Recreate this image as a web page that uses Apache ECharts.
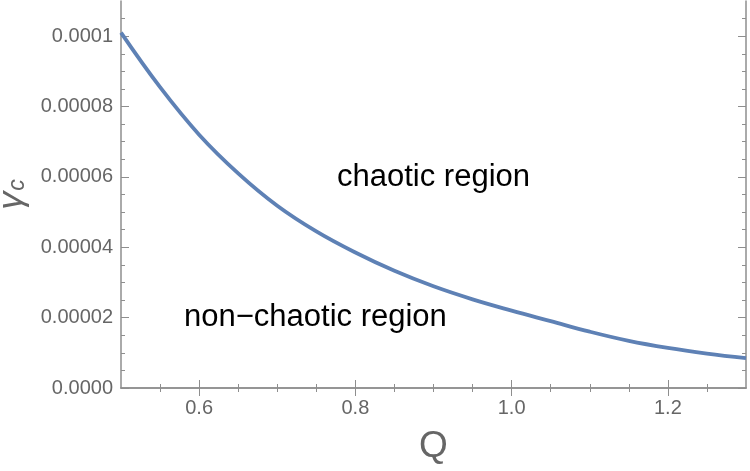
<!DOCTYPE html>
<html>
<head>
<meta charset="utf-8">
<script src="https://cdn.jsdelivr.net/npm/echarts@6/dist/echarts.min.js"></script>
<style>
  html, body { margin: 0; padding: 0; background: #fff; }
  #main { width: 750px; height: 471px; }
</style>
</head>
<body>
<div id="main"></div>
<script>
  // values
  var qValues = [0.50, 0.55, 0.60, 0.65, 0.70, 0.75, 0.80, 0.85, 0.90, 0.95, 1.00, 1.05, 1.10, 1.15, 1.20, 1.25, 1.30];
  var gammaC = [1.01e-4, 8.55e-5, 7.2e-5, 6.1e-5, 5.18e-5, 4.45e-5, 3.85e-5, 3.33e-5, 2.89e-5, 2.52e-5, 2.2e-5, 1.9e-5, 1.6e-5, 1.34e-5, 1.14e-5, 0.98e-5, 0.85e-5];

  // ticks
  var xMajor = [0.6, 0.8, 1.0, 1.2];
  var xMinor = [0.55, 0.65, 0.7, 0.75, 0.85, 0.9, 0.95, 1.05, 1.1, 1.15, 1.25];
  var yMajor = [0, 0.00002, 0.00004, 0.00006, 0.00008, 0.0001];
  var yMinor = [0.000005, 0.00001, 0.000015, 0.000025, 0.00003, 0.000035, 0.000045, 0.00005, 0.000055,
                0.000065, 0.00007, 0.000075, 0.000085, 0.00009, 0.000095, 0.000105];

  var axisColor = "#8e8e8e";
  var labelColor = "#666";
  var font = "Liberation Sans, Arial, sans-serif";

  function xAxisDef(pos, ticks, len, showLabel, showLine) {
    return {
      type: "value", min: 0.5, max: 1.3, position: pos,
      axisLine: { show: showLine, lineStyle: { color: axisColor, width: 1.5 } },
      axisTick: { show: true, inside: true, length: len, customValues: ticks, lineStyle: { color: axisColor, width: 1 } },
      axisLabel: {
        show: showLabel, customValues: xMajor, color: labelColor, fontSize: 20, fontFamily: font, margin: 10,
        formatter: function (v) { return v.toFixed(1); }
      },
      splitLine: { show: false }
    };
  }
  function yAxisDef(pos, ticks, len, showLabel, showLine) {
    return {
      type: "value", min: 0, max: 0.00011, position: pos,
      axisLine: { show: showLine, lineStyle: { color: axisColor, width: 1.5 } },
      axisTick: { show: true, inside: true, length: len, customValues: ticks, lineStyle: { color: axisColor, width: 1 } },
      axisLabel: {
        show: showLabel, customValues: yMajor, color: labelColor, fontSize: 20, fontFamily: font, margin: 8,
        formatter: function (v) {
          if (v === 0) return "0.0000";
          if (Math.abs(v - 0.0001) < 1e-12) return "0.0001";
          return v.toFixed(5);
        }
      },
      splitLine: { show: false }
    };
  }

  var xAxes = [
    xAxisDef("bottom", xMajor, 8, true, true),
    xAxisDef("bottom", xMinor, 4, false, false),
    xAxisDef("top", xMajor, 8, false, true),
    xAxisDef("top", xMinor, 4, false, false)
  ];
  xAxes[0].name = "Q";
  xAxes[0].nameLocation = "middle";
  xAxes[0].nameGap = 40;
  xAxes[0].nameTextStyle = { color: labelColor, fontSize: 37, fontFamily: font };

  var yAxes = [
    yAxisDef("left", yMajor, 8, true, true),
    yAxisDef("left", yMinor, 4, false, false),
    yAxisDef("right", yMajor, 8, false, true),
    yAxisDef("right", yMinor, 4, false, false)
  ];
  yAxes[0].name = "{g|γ}{s|c}";
  yAxes[0].nameLocation = "middle";
  yAxes[0].nameRotate = 90;
  yAxes[0].nameGap = 90;
  yAxes[0].nameTextStyle = {
    color: labelColor, fontFamily: font,
    rich: {
      g: { fontSize: 36, fontStyle: "italic", color: labelColor, fontFamily: font },
      s: { fontSize: 23, fontStyle: "italic", color: labelColor, fontFamily: font, padding: [12, 0, 0, 1] }
    }
  };

  var chart = echarts.init(document.getElementById("main"));
  chart.setOption({
    animation: false,
    backgroundColor: "#fff",
    grid: { left: 121, right: 4, top: 1, bottom: 83, outerBoundsMode: "none", containLabel: false },
    xAxis: xAxes,
    yAxis: yAxes,
    series: [{
      type: "line",
      data: qValues.map(function (q, i) { return [q, gammaC[i]]; }),
      smooth: 0.4,
      showSymbol: false,
      lineStyle: { color: "#5E81B5", width: 3.8 }
    }],
    graphic: [
      { type: "text", x: 337, y: 177, style: { text: "chaotic region", fill: "#000", font: "31px " + font, verticalAlign: "middle" } },
      { type: "text", x: 184, y: 317, style: { text: "non\u2212chaotic region", fill: "#000", font: "31px " + font, verticalAlign: "middle" } }
    ]
  });
</script>
</body>
</html>
